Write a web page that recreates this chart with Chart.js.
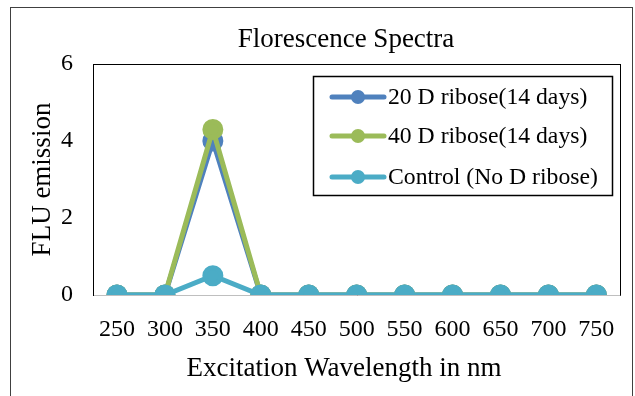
<!DOCTYPE html>
<html>
<head>
<meta charset="utf-8">
<script src="https://cdn.jsdelivr.net/npm/chart.js@4"></script>
<style>
  html, body { margin: 0; padding: 0; background: #fff; }
  #wrap { width: 635px; height: 396px; }
</style>
</head>
<body>
<div id="wrap"><canvas id="myChart" width="635" height="396"></canvas></div>
<script>
const wavelengths = ['250', '300', '350', '400', '450', '500', '550', '600', '650', '700', '750'];
const ribose20 = [0, 0, 4.0, 0, 0, 0, 0, 0, 0, 0, 0];
const ribose40 = [0, 0, 4.3, 0, 0, 0, 0, 0, 0, 0, 0];
const control = [0, 0, 0.5, 0, 0, 0, 0, 0, 0, 0, 0];
const yTicks = [0, 2, 4, 6];

const serif = "'Liberation Serif', 'Times New Roman', serif";

// frame, plot box, titles and boxed legend
const decorations = {
    id: 'decorations',
    beforeDatasetsDraw(chart) {
        const { ctx, chartArea: a } = chart;
        ctx.save();
        ctx.strokeStyle = '#404040';
        ctx.lineWidth = 1;
        ctx.strokeRect(10.5, 7.5, 622, 420);
        ctx.strokeStyle = '#000';
        ctx.strokeRect(Math.round(a.left) + 0.5, Math.round(a.top) + 0.5,
            Math.round(a.right - a.left), Math.round(a.bottom - a.top));
        ctx.strokeStyle = '#bfbfbf';
        ctx.beginPath();
        ctx.moveTo(a.left + 1, Math.round(a.bottom) + 0.5);
        ctx.lineTo(a.right, Math.round(a.bottom) + 0.5);
        ctx.stroke();
        ctx.fillStyle = '#000';
        ctx.font = '27px ' + serif;
        ctx.textAlign = 'center';
        ctx.textBaseline = 'middle';
        ctx.fillText('Florescence Spectra', 346, 40);
        ctx.fillText('Excitation Wavelength in nm', 344, 369);
        ctx.restore();
    },
    afterDraw(chart) {
        const { ctx } = chart;
        ctx.save();
        ctx.fillStyle = '#fff';
        ctx.fillRect(313, 76, 300, 120);
        ctx.strokeStyle = '#000';
        ctx.lineWidth = 1.5;
        ctx.strokeRect(313.5, 76.5, 299, 119);
        const rows = [97, 136, 177];
        ctx.font = '23.7px ' + serif;
        ctx.textBaseline = 'middle';
        ctx.textAlign = 'left';
        chart.data.datasets.forEach((ds, i) => {
            const y = rows[i];
            ctx.strokeStyle = ds.borderColor;
            ctx.lineWidth = 5;
            ctx.lineCap = 'round';
            ctx.beginPath();
            ctx.moveTo(332, y);
            ctx.lineTo(384, y);
            ctx.stroke();
            ctx.fillStyle = ds.backgroundColor;
            ctx.beginPath();
            ctx.arc(358, y, 7, 0, Math.PI * 2);
            ctx.fill();
            ctx.fillStyle = '#000';
            ctx.fillText(ds.label, 388, y + 1);
        });
        ctx.restore();
    }
};

new Chart(document.getElementById('myChart').getContext('2d'), {
    type: 'line',
    data: {
        labels: wavelengths,
        datasets: [{
            label: '20 D ribose(14 days)',
            data: ribose20,
            borderColor: '#4F81BD',
            backgroundColor: '#4F81BD',
            borderWidth: 5,
            pointRadius: 8,
            pointHoverRadius: 8,
            order: 2
        }, {
            label: '40 D ribose(14 days)',
            data: ribose40,
            borderColor: '#9BBB59',
            backgroundColor: '#9BBB59',
            borderWidth: 5,
            pointRadius: 8,
            pointHoverRadius: 8,
            order: 1
        }, {
            label: 'Control (No D ribose)',
            data: control,
            borderColor: '#4BACC6',
            backgroundColor: '#4BACC6',
            borderWidth: 5,
            pointRadius: 8,
            pointHoverRadius: 8,
            order: 0
        }]
    },
    options: {
        responsive: false,
        animation: false,
        layout: { padding: { top: 64, right: 14, left: 0, bottom: 0 } },
        plugins: {
            legend: { display: false },
            tooltip: { enabled: false }
        },
        scales: {
            x: {
                offset: true,
                grid: { display: false, drawTicks: false },
                border: { display: false },
                ticks: { color: '#000', font: { family: serif, size: 24 }, padding: 20, maxRotation: 0, autoSkip: false },
                afterFit(scale) { scale.height = 101; }
            },
            y: {
                min: 0,
                max: 6,
                afterBuildTicks(scale) { scale.ticks = yTicks.map(v => ({ value: v })); },
                grid: { display: false, drawTicks: false },
                border: { display: false },
                ticks: { color: '#000', font: { family: serif, size: 24 }, padding: 20 },
                title: {
                    display: true, text: 'FLU emission', color: '#000',
                    font: { family: serif, size: 27 }, padding: { top: 27, bottom: 0 }
                },
                afterFit(scale) { scale.width = 93; }
            }
        }
    },
    plugins: [decorations]
});
</script>
</body>
</html>
